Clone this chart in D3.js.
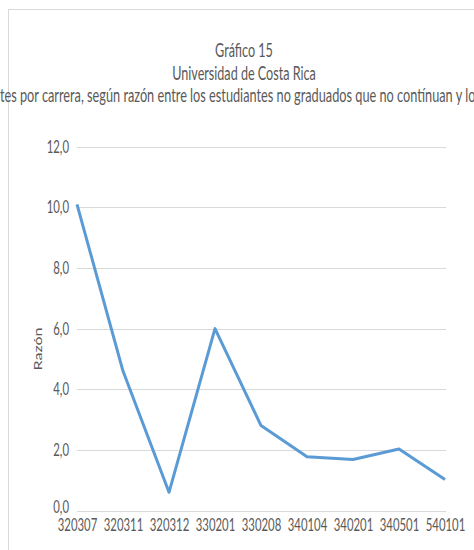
<!DOCTYPE html>
<html>
<head>
<meta charset="utf-8">
<script src="https://cdn.jsdelivr.net/npm/d3@7"></script>
<style>
  body { margin: 0; background: #fff; }
  text { font-family: Lato, "Open Sans", sans-serif; fill: #595959; }
</style>
</head>
<body>
<svg id="chart" width="474" height="550"></svg>
<script>
// datos
const carreras = ["320307", "320311", "320312", "330201", "330208", "340104", "340201", "340501", "540101"];
const razon = [10.1, 4.6, 0.6, 6.0, 2.8, 1.77, 1.68, 2.03, 1.02];
const yTicks = [0, 2, 4, 6, 8, 10, 12];
const titulo = [
  "Gráfico 15",
  "Universidad de Costa Rica",
  "Estudiantes por carrera, según razón entre los estudiantes no graduados que no contínuan y los graduados"
];
const ejeY = "Razón";

(function () {
  const sx = 0.63; // texto comprimido horizontalmente como en la imagen
  const svg = d3.select("#chart");

  // borde del area del grafico (se sale por derecha y abajo)
  svg.append("rect")
    .attr("x", 8.5).attr("y", 9.5)
    .attr("width", 472).attr("height", 600)
    .attr("fill", "none").attr("stroke", "#d9d9d9");

  const x = d3.scalePoint().domain(carreras).range([77, 445]);
  const y = d3.scaleLinear().domain([0, 12]).range([510.5, 146.7]);

  // lineas de cuadricula
  svg.append("g")
    .selectAll("line")
    .data(yTicks)
    .join("line")
    .attr("x1", 77).attr("x2", 446)
    .attr("y1", (d) => Math.round(y(d)) + 0.5)
    .attr("y2", (d) => Math.round(y(d)) + 0.5)
    .attr("stroke", "#d9d9d9");

  // eje y
  const yAxisG = svg.append("g")
    .attr("transform", "translate(69,0)")
    .call(d3.axisLeft(y).tickValues(yTicks).tickSize(0).tickFormat((d) => d3.format(".1f")(d).replace(".", ",")));
  yAxisG.select(".domain").remove();
  yAxisG.selectAll("text")
    .attr("x", null).attr("dy", "0.3em")
    .attr("transform", `scale(${sx},1)`)
    .style("font-size", "18px")
    .attr("fill", "#595959");
  yAxisG.selectAll(".tick").filter((d) => d === 0)
    .select("text").attr("dy", "0.1em");

  // eje x
  const xAxisG = svg.append("g")
    .attr("transform", "translate(0,518)")
    .call(d3.axisBottom(x).tickSize(0));
  xAxisG.select(".domain").remove();
  xAxisG.selectAll("text")
    .attr("y", 0).attr("x", 0).attr("dy", "0.71em")
    .attr("transform", `scale(${sx},1)`)
    .style("font-size", "18px")
    .attr("fill", "#595959");

  // linea de la serie
  const line = d3.line()
    .x((d, i) => x(carreras[i]))
    .y((d) => y(d));
  svg.append("path")
    .datum(razon)
    .attr("d", line)
    .attr("fill", "none")
    .attr("stroke", "#5b9bd5")
    .attr("stroke-width", 3)
    .attr("stroke-linejoin", "round");

  // titulo
  const tl = [57, 80, 102];
  titulo.forEach((t, i) => {
    const txt = svg.append("text")
      .text(t)
      .style("font-size", "20px");
    if (i < 2) {
      txt.attr("text-anchor", "middle")
        .attr("transform", `translate(244,${tl[i]}) scale(${sx},1)`);
    } else {
      // solo se ve desde "tes por" hasta "y lo" en la imagen
      const k = t.indexOf("tes por");
      const e = t.indexOf("y los") + 4;
      const off = txt.node().getSubStringLength(0, k);
      const vis = txt.node().getSubStringLength(k, e - k);
      const s3 = 476 / vis;
      txt.attr("transform", `translate(${-off * s3},${tl[i]}) scale(${s3},1)`);
    }
  });

  // titulo eje y
  svg.append("text")
    .text(ejeY)
    .attr("text-anchor", "middle")
    .style("font-size", "16px")
    .attr("transform", `translate(42,349) scale(0.72,1) rotate(-90)`);
})();
</script>
</body>
</html>
